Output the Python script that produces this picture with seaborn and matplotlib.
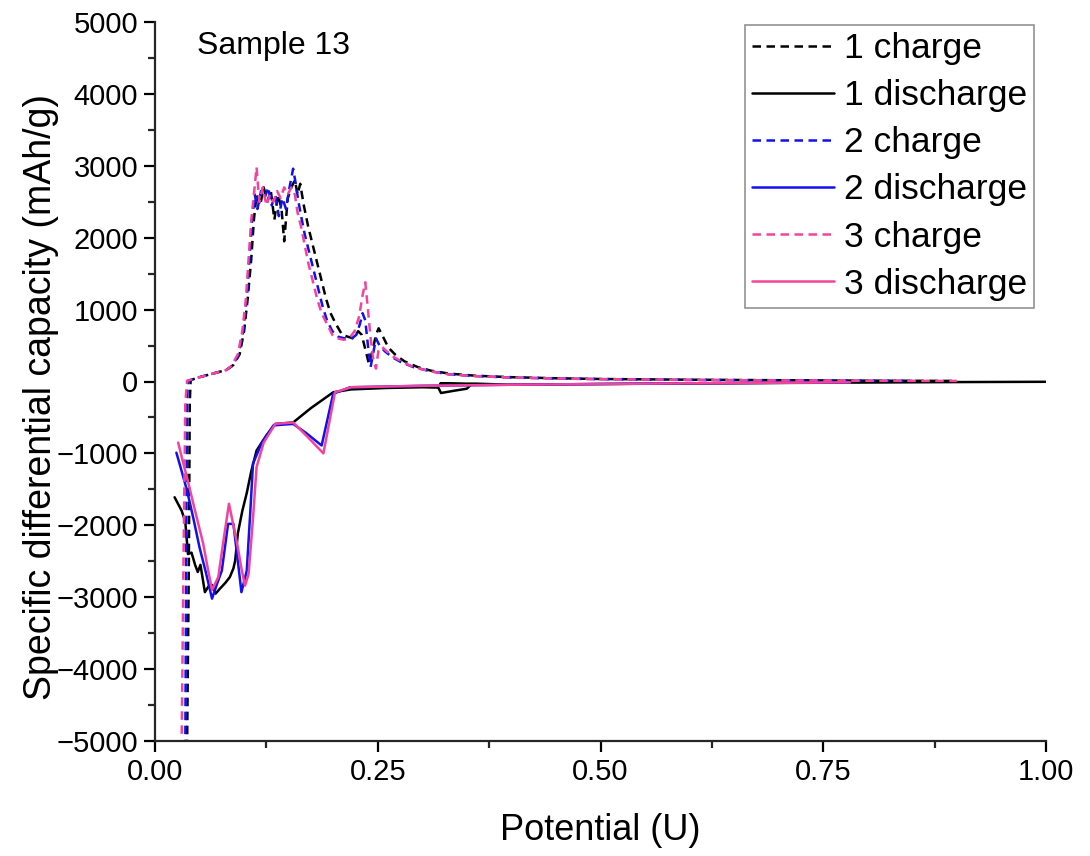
import numpy as np
import pandas as pd
import matplotlib
matplotlib.use("Agg")
import matplotlib.pyplot as plt
from matplotlib.ticker import MultipleLocator, FixedLocator
import seaborn as sns

# ---- data: potential (U) vs specific differential capacity (mAh/g) ----
c1_x = [0.036, 0.038, 0.039, 0.040, 0.050, 0.065, 0.080, 0.088, 0.095, 0.100, 0.104, 0.108,
        0.111, 0.114, 0.118, 0.122, 0.126, 0.130, 0.134, 0.138, 0.142, 0.145, 0.149, 0.153,
        0.157, 0.160, 0.163, 0.167, 0.172, 0.177, 0.182, 0.187, 0.192, 0.197, 0.203, 0.210,
        0.217, 0.223, 0.228, 0.232, 0.236, 0.240, 0.244, 0.248, 0.251, 0.256, 0.262, 0.270,
        0.280, 0.295, 0.310, 0.330, 0.360, 0.400, 0.450, 0.500, 0.550, 0.600, 0.700, 0.800, 0.900]
c1_y = [-5100, -2500, -300, 20, 60, 110, 160, 230, 380, 700, 1150, 1700,
        2250, 2600, 2450, 2700, 2500, 2650, 2250, 2600, 2400, 1950, 2550, 2700,
        2800, 2600, 2750, 2450, 2150, 1900, 1650, 1400, 1150, 950, 800, 650,
        620, 600, 700, 650, 450, 250, 420, 650, 740, 620, 470, 370,
        280, 200, 150, 110, 80, 60, 45, 35, 30, 25, 18, 12, 8]

d1_x = [0.022, 0.030, 0.034, 0.037, 0.041, 0.045, 0.048, 0.051, 0.056, 0.060, 0.064, 0.068,
        0.073, 0.079, 0.084, 0.088, 0.090, 0.093, 0.098, 0.103, 0.108, 0.114, 0.125, 0.135,
        0.155, 0.175, 0.200, 0.220, 0.260, 0.300, 0.318, 0.321, 0.335, 0.350, 0.355, 0.320,
        0.360, 0.400, 0.500, 0.600, 0.700, 0.800, 0.900, 1.000]
d1_y = [-1610, -1800, -1950, -2400, -2380, -2550, -2650, -2550, -2930, -2850, -2830, -2950,
        -2880, -2800, -2720, -2600, -2490, -2110, -1800, -1550, -1250, -960, -750, -590,
        -570, -370, -150, -110, -90, -80, -85, -160, -130, -100, -40, -30,
        -30, -45, -35, -28, -20, -14, -8, -4]

c2_x = [0.034, 0.035, 0.036, 0.037, 0.050, 0.065, 0.080, 0.087, 0.094, 0.099, 0.103, 0.106,
        0.109, 0.112, 0.115, 0.119, 0.123, 0.127, 0.131, 0.135, 0.139, 0.143, 0.147, 0.151,
        0.155, 0.158, 0.161, 0.164, 0.168, 0.173, 0.178, 0.183, 0.188, 0.193, 0.199, 0.206,
        0.213, 0.220, 0.226, 0.230, 0.233, 0.236, 0.239, 0.242, 0.245, 0.248, 0.252, 0.258,
        0.266, 0.276, 0.290, 0.310, 0.330, 0.360, 0.400, 0.450, 0.500, 0.600, 0.700, 0.800, 0.850]
c2_y = [-5100, -2500, -300, 10, 60, 110, 160, 220, 380, 700, 1150, 1700,
        2250, 2600, 2400, 2650, 2550, 2700, 2450, 2600, 2300, 2550, 2400, 2700,
        2960, 2750, 2500, 2300, 2050, 1800, 1550, 1300, 1050, 850, 700, 620,
        600, 590, 650, 800, 950, 850, 500, 200, 400, 600, 500, 420,
        340, 270, 200, 140, 100, 75, 55, 42, 33, 22, 15, 10, 8]

d2_x = [0.024, 0.030, 0.036, 0.043, 0.050, 0.057, 0.064, 0.070, 0.075, 0.082, 0.088, 0.093,
        0.097, 0.103, 0.107, 0.110, 0.120, 0.133, 0.155, 0.170, 0.187, 0.200, 0.219, 0.260,
        0.300, 0.400, 0.500, 0.600, 0.700, 0.780]
d2_y = [-990, -1250, -1520, -1900, -2310, -2650, -3020, -2800, -2630, -1980, -1980, -2500,
        -2930, -2630, -1800, -1140, -850, -610, -590, -720, -890, -170, -80, -70,
        -60, -45, -35, -25, -18, -12]

c3_x = [0.030, 0.032, 0.034, 0.036, 0.050, 0.065, 0.080, 0.086, 0.093, 0.098, 0.102, 0.105,
        0.108, 0.111, 0.114, 0.117, 0.121, 0.125, 0.129, 0.133, 0.137, 0.141, 0.145, 0.149,
        0.153, 0.157, 0.160, 0.164, 0.168, 0.172, 0.177, 0.182, 0.187, 0.193, 0.199, 0.205,
        0.212, 0.218, 0.224, 0.229, 0.233, 0.236, 0.239, 0.242, 0.245, 0.248, 0.251, 0.255,
        0.260, 0.268, 0.278, 0.290, 0.310, 0.330, 0.360, 0.400, 0.450, 0.500, 0.600, 0.700,
        0.800, 0.900]
c3_y = [-4900, -2500, -300, 10, 60, 110, 160, 220, 380, 700, 1150, 1700,
        2250, 2600, 2980, 2500, 2700, 2450, 2600, 2500, 2650, 2550, 2700, 2600,
        2700, 2600, 2350, 2150, 1900, 1650, 1400, 1150, 950, 800, 650, 600,
        580, 600, 700, 900, 1200, 1380, 1000, 600, 300, 180, 450, 480,
        420, 340, 270, 200, 140, 100, 75, 55, 42, 33, 22, 15,
        10, 8]

d3_x = [0.026, 0.031, 0.036, 0.045, 0.054, 0.060, 0.064, 0.071, 0.077, 0.083, 0.088, 0.093,
        0.097, 0.101, 0.105, 0.110, 0.114, 0.122, 0.135, 0.155, 0.172, 0.189, 0.202, 0.220,
        0.260, 0.300, 0.400, 0.500, 0.600, 0.700, 0.780]
d3_y = [-850, -1100, -1340, -1800, -2250, -2650, -2900, -2720, -2200, -1700, -2000, -2310,
        -2600, -2840, -2680, -1900, -1190, -850, -590, -570, -780, -1000, -150, -80,
        -70, -60, -45, -35, -25, -18, -12]

series_labels = ["1 charge", "1 discharge", "2 charge", "2 discharge", "3 charge", "3 discharge"]
series_x = [c1_x, d1_x, c2_x, d2_x, c3_x, d3_x]
series_y = [c1_y, d1_y, c2_y, d2_y, c3_y, d3_y]

x_ticks = [0.00, 0.25, 0.50, 0.75, 1.00]
x_tick_labels = ["0.00", "0.25", "0.50", "0.75", "1.00"]
y_ticks = [-5000, -4000, -3000, -2000, -1000, 0, 1000, 2000, 3000, 4000, 5000]

# ---- style ----
sns.set_style("ticks")
plt.rcParams["font.family"] = ["Liberation Sans", "DejaVu Sans"]
plt.rcParams["axes.linewidth"] = 1.6
plt.rcParams["text.color"] = "black"
plt.rcParams["axes.labelcolor"] = "black"

colors = {"1": "#000000", "2": "#1010F0", "3": "#F2449C"}

fig = plt.figure(figsize=(10.9, 8.56), dpi=100)
ax = fig.add_axes([155 / 1090, 1 - 741 / 856, 891 / 1090, 719 / 856])

for label, xs, ys in zip(series_labels, series_x, series_y):
    df = pd.DataFrame({"x": xs, "y": ys})
    color = colors[label[0]]
    dashed = "discharge" not in label
    sns.lineplot(data=df, x="x", y="y", sort=False, estimator=None, ax=ax,
                 color=color, linewidth=1.8, label=label,
                 linestyle=(0, (3.4, 2.2)) if dashed else "-")

ax.set_xlim(0, 1.0)
ax.set_ylim(-5000, 5000)
ax.xaxis.set_major_locator(FixedLocator(x_ticks))
ax.set_xticklabels(x_tick_labels)
ax.xaxis.set_minor_locator(MultipleLocator(0.125))
ax.yaxis.set_major_locator(FixedLocator(y_ticks))
ax.yaxis.set_minor_locator(MultipleLocator(500))
ax.tick_params(axis="both", which="major", direction="out", length=8, width=1.6,
               labelsize=21, pad=4, colors="black")
ax.tick_params(axis="both", which="minor", direction="out", length=5, width=1.6)

sns.despine(ax=ax)
ax.set_xlabel("Potential (U)", fontsize=26, labelpad=20)
ax.set_ylabel("Specific differential capacity (mAh/g)", fontsize=27)
ax.yaxis.set_label_coords(-0.108, 0.478)

ax.text(0.047, 0.988, "Sample 13", transform=ax.transAxes, fontsize=23,
        ha="left", va="top")

leg = ax.legend(loc="upper right", bbox_to_anchor=(0.9865, 0.996), borderaxespad=0,
                fontsize=25.5, handlelength=2.3, handletextpad=0.28, labelspacing=0.4,
                frameon=True, fancybox=False, borderpad=0.2)
leg.get_frame().set_edgecolor("#777777")
leg.get_frame().set_linewidth(1.2)
for t in leg.get_texts():
    t.set_color("black")

fig.savefig("out.png", dpi=100, facecolor="white")
